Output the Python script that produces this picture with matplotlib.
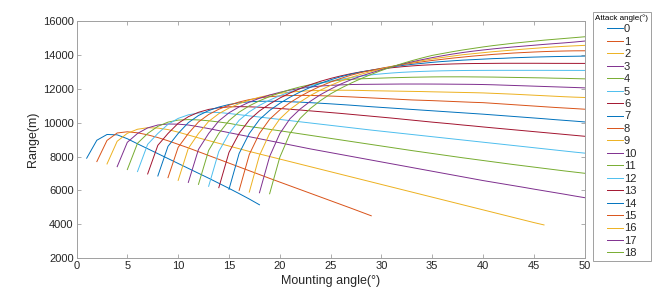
import numpy as np
import matplotlib
matplotlib.use('Agg')
import matplotlib.pyplot as plt
from matplotlib.lines import Line2D

plt.rcParams['font.family'] = ['Liberation Sans', 'DejaVu Sans']

# Дальность (м) для каждого угла атаки; кривая a начинается с угла установки a+1
r0 = [7900, 8960, 9300, 9280, 9050, 8750, 8460, 8170, 7880, 7590, 7300, 7010, 6720, 6420, 6120, 5810, 5490, 5150]
r1 = [7700, 8950, 9390, 9460, 9400, 9280, 9120, 8930, 8720, 8510, 8285, 8060, 7835, 7610, 7385, 7160, 6935,
      6710, 6490, 6270, 6050, 5830, 5610, 5390, 5170, 4950, 4725, 4500]
r2 = [7560, 8900, 9370, 9610, 9700, 9680, 9590, 9440, 9270, 9100, 8940, 8780, 8620, 8460, 8300, 8150, 8000,
      7850, 7700, 7550, 7400, 7250, 7100, 6950, 6800, 6650, 6500, 6350, 6200, 6050, 5900, 5750, 5600, 5450,
      5300, 5150, 5000, 4850, 4700, 4550, 4400, 4250, 4100, 3960]
r3 = [7400, 8840, 9360, 9690, 9860, 9920, 9910, 9860, 9760, 9650, 9530, 9410, 9290, 9170, 9050, 8930, 8810,
      8690, 8570, 8450, 8340, 8230, 8120, 8010, 7900, 7790, 7680, 7570, 7460, 7350, 7240, 7130, 7020, 6910,
      6800, 6690, 6580, 6480, 6380, 6280, 6180, 6075, 5975, 5875, 5775, 5670, 5570]
r4 = [7230, 8780, 9360, 9780, 10030, 10150, 10180, 10160, 10110, 10040, 9960, 9850, 9770, 9690, 9605, 9520,
      9430, 9340, 9250, 9160, 9070, 8980, 8890, 8800, 8710, 8620, 8530, 8440, 8350, 8265, 8180, 8095, 8010,
      7925, 7845, 7765, 7685, 7605, 7525, 7450, 7375, 7300, 7225, 7150, 7080, 7010]
r5 = [7110, 8720, 9360, 9900, 10250, 10460, 10570, 10610, 10600, 10540, 10470, 10400, 10330, 10260, 10190,
      10120, 10050, 9980, 9910, 9840, 9770, 9700, 9630, 9560, 9495, 9430, 9365, 9300, 9235, 9170, 9105, 9040,
      8975, 8910, 8845, 8780, 8715, 8650, 8585, 8520, 8455, 8390, 8325, 8260, 8200]
r6 = [6970, 8660, 9360, 9960, 10350, 10610, 10780, 10880, 10930, 10945, 10935, 10910, 10875, 10835, 10790,
      10745, 10695, 10645, 10595, 10545, 10490, 10435, 10380, 10325, 10270, 10210, 10150, 10090, 10030, 9975,
      9920, 9860, 9805, 9746, 9690, 9635, 9580, 9525, 9470, 9415, 9360, 9305, 9250, 9195]
r7 = [6850, 8600, 9360, 10000, 10420, 10710, 10920, 11070, 11170, 11230, 11260, 11265, 11255, 11235, 11210,
      11180, 11145, 11110, 11070, 11030, 10985, 10940, 10900, 10860, 10820, 10780, 10740, 10700, 10660, 10620,
      10580, 10540, 10500, 10455, 10410, 10365, 10320, 10275, 10230, 10180, 10135, 10090, 10041]
r8 = [6750, 8540, 9360, 10040, 10480, 10790, 11030, 11220, 11360, 11460, 11530, 11575, 11600, 11610, 11605,
      11590, 11570, 11545, 11520, 11490, 11460, 11430, 11400, 11370, 11340, 11320, 11300, 11275, 11250, 11225,
      11200, 11180, 11140, 11100, 11060, 11020, 10980, 10940, 10900, 10865, 10830, 10793]
r9 = [6590, 8480, 9360, 10070, 10530, 10860, 11120, 11330, 11500, 11630, 11730, 11800, 11850, 11885, 11905,
      11915, 11915, 11910, 11900, 11885, 11875, 11865, 11855, 11845, 11835, 11820, 11808, 11795, 11782, 11770,
      11755, 11730, 11705, 11680, 11650, 11620, 11590, 11560, 11530, 11505, 11485]
r10 = [6470, 8420, 9360, 10100, 10580, 10930, 11210, 11440, 11630, 11790, 11920, 12020, 12100, 12160, 12200,
       12230, 12250, 12260, 12265, 12270, 12275, 12280, 12280, 12280, 12278, 12275, 12270, 12265, 12260, 12250,
       12235, 12215, 12195, 12175, 12155, 12135, 12115, 12095, 12075, 12053]
r11 = [6355, 8360, 9360, 10120, 10620, 10990, 11290, 11540, 11760, 11950, 12110, 12240, 12350, 12440, 12510,
       12560, 12590, 12610, 12630, 12650, 12665, 12680, 12690, 12700, 12705, 12705, 12705, 12700, 12695, 12690,
       12680, 12670, 12660, 12650, 12640, 12625, 12615, 12600, 12586]
r12 = [6240, 8300, 9360, 10140, 10640, 11020, 11330, 11590, 11810, 12000, 12170, 12320, 12450, 12560, 12660,
       12750, 12820, 12880, 12930, 12970, 13000, 13025, 13045, 13060, 13070, 13078, 13083, 13085, 13087, 13088,
       13088, 13088, 13088, 13087, 13086, 13085, 13084, 13083]
r13 = [6160, 8240, 9360, 10160, 10690, 11100, 11450, 11750, 12010, 12240, 12440, 12610, 12760, 12890, 13000,
       13090, 13170, 13240, 13300, 13350, 13390, 13420, 13445, 13465, 13480, 13490, 13495, 13500, 13505, 13505,
       13505, 13505, 13503, 13500, 13500, 13498, 13497]
r14 = [6060, 8180, 9360, 10180, 10720, 11140, 11500, 11810, 12080, 12320, 12530, 12710, 12860, 12990, 13100,
       13200, 13290, 13370, 13440, 13500, 13560, 13610, 13650, 13690, 13720, 13750, 13780, 13800, 13830, 13850,
       13870, 13885, 13900, 13910, 13920, 13929]
r15 = [6000, 8120, 9360, 10200, 10750, 11180, 11550, 11870, 12150, 12400, 12610, 12800, 12960, 13090, 13210,
       13320, 13420, 13510, 13590, 13670, 13740, 13810, 13870, 13930, 13980, 14030, 14070, 14110, 14140, 14170,
       14195, 14215, 14230, 14240, 14243]
r16 = [5900, 8060, 9360, 10220, 10780, 11220, 11600, 11920, 12200, 12450, 12670, 12860, 13020, 13170, 13310,
       13440, 13550, 13660, 13760, 13850, 13930, 14010, 14070, 14130, 14190, 14240, 14290, 14340, 14385, 14430,
       14470, 14505, 14535, 14562]
r17 = [5860, 8000, 9350, 10230, 10800, 11260, 11650, 11980, 12280, 12530, 12750, 12940, 13120, 13290, 13450,
       13590, 13720, 13840, 13950, 14050, 14140, 14220, 14290, 14355, 14415, 14470, 14520, 14570, 14620, 14665,
       14710, 14760, 14817]
r18 = [5800, 7950, 9350, 10250, 10830, 11300, 11700, 12030, 12330, 12600, 12850, 13080, 13290, 13480, 13660,
       13820, 13970, 14080, 14190, 14290, 14380, 14470, 14550, 14620, 14690, 14750, 14810, 14870, 14920, 14970,
       15020, 15070]

curves = [r0, r1, r2, r3, r4, r5, r6, r7, r8, r9, r10, r11, r12, r13, r14, r15, r16, r17, r18]
attack = list(range(19))
colors = ['#0072BD', '#D95319', '#EDB120', '#7E2F8E', '#77AC30', '#4DBEEE', '#A2142F']

fig = plt.figure(figsize=(6.54, 2.92), dpi=100)
ax = fig.add_axes([0.117, 0.116, 0.777, 0.812])

for a, r in zip(attack, curves):
    x = np.arange(a + 1, a + 1 + len(r))
    ax.plot(x, r, color=colors[a % 7], lw=0.7, label=str(a))

ax.set_xlim(0, 50)
ax.set_ylim(2000, 16000)
ax.set_xticks(np.arange(0, 51, 5))
ax.set_yticks(np.arange(2000, 16001, 2000))
ax.set_xlabel('Mounting angle(°)', fontsize=9, color='#262626', labelpad=3)
ax.set_ylabel('Range(m)', fontsize=9, color='#262626', labelpad=3)
ax.tick_params(direction='in', length=3, width=0.6, colors='#a0a0a0', labelcolor='#262626',
               labelsize=8, top=True, right=True, pad=2)
for s in ax.spines.values():
    s.set_color('#a0a0a0')
    s.set_linewidth(0.7)

leg = fig.legend(loc='upper left', bbox_to_anchor=(0.907, 0.959), borderaxespad=0,
                 title='Attack angle(°)', title_fontsize=5.8, fontsize=8,
                 handlelength=1.4, handletextpad=0.1, labelspacing=0.22,
                 borderpad=0.2, fancybox=False, framealpha=1, edgecolor='#a0a0a0')
leg.get_frame().set_linewidth(0.7)
for t in leg.get_texts():
    t.set_color('#262626')

# линия под заголовком легенды
fig.canvas.draw()
fb = leg.get_frame().get_window_extent()
tb = leg.get_title().get_window_extent()
inv = fig.transFigure.inverted()
(x0, y0), (x1, _) = inv.transform([(fb.x0, tb.y0 - 2), (fb.x1, tb.y0 - 2)])
fig.add_artist(Line2D([x0, x1], [y0, y0], color='#a0a0a0', lw=0.7, transform=fig.transFigure))

fig.savefig('out.png', dpi=100)
